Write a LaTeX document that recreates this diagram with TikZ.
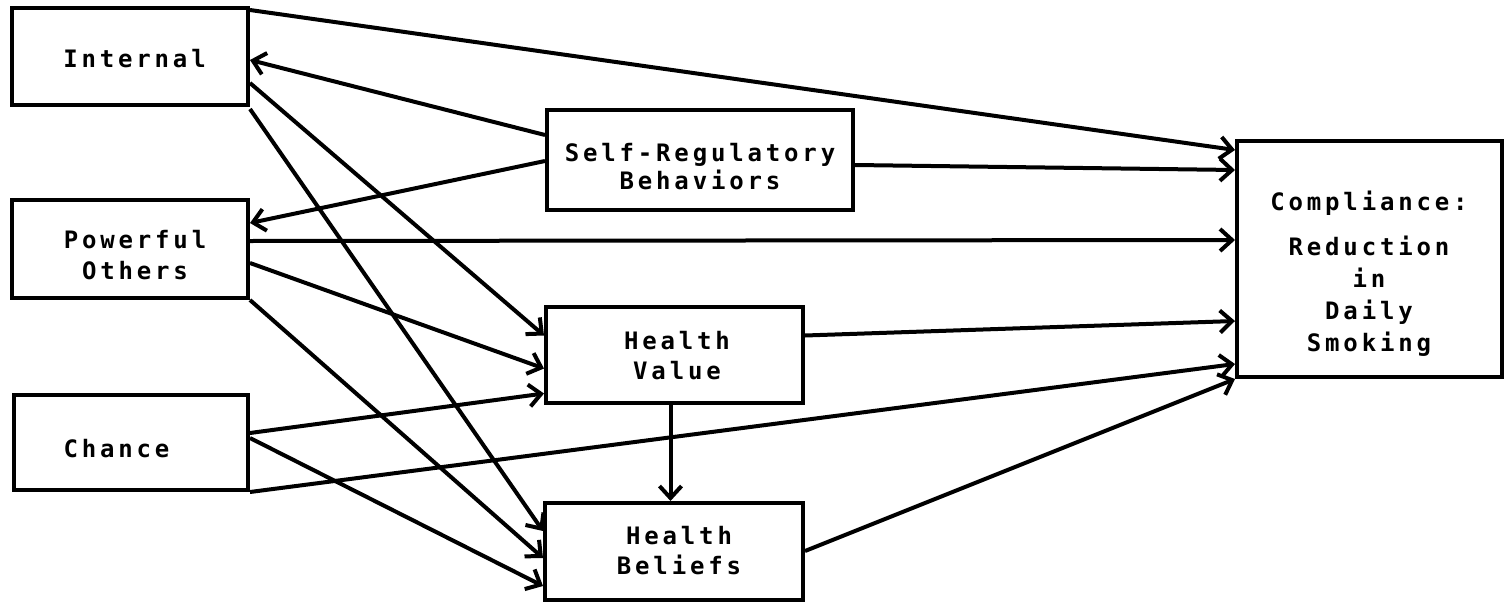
\documentclass[tikz,border=0pt]{standalone}
\usepackage{fontspec}
\setmonofont{DejaVu Sans Mono}[LetterSpace=16]
\usetikzlibrary{arrows.meta,calc}
\tikzset{
  box/.style={draw,line width=4pt,rectangle,inner sep=0pt},
  txt/.style={inner sep=0pt,align=center,anchor=base,
    font=\ttfamily\bfseries\fontsize{24}{#1}\selectfont},
  txt/.default=31,
  conn/.style={line width=4pt,-{Straight Barb[length=12pt,width=22pt,line width=4pt]}}
}
\begin{document}
\begin{tikzpicture}[x=1pt,y=-1pt]
\useasboundingbox (0,0) rectangle (1504,613);
% boxes
\node[box,minimum width=236pt,minimum height=97pt] (int) at (130,56.5) {};
\node[box,minimum width=236pt,minimum height=98pt] (pow) at (130,249) {};
\node[box,minimum width=234pt,minimum height=95pt] (cha) at (131,442.5) {};
\node[box,minimum width=306pt,minimum height=100pt] (srb) at (700,160) {};
\node[box,minimum width=257pt,minimum height=96pt] (hv) at (674.5,354.5) {};
\node[box,minimum width=258pt,minimum height=97pt] (hb) at (674,551.5) {};
\node[box,minimum width=265pt,minimum height=236pt] (comp) at (1369.5,259) {};
% texts (base anchor = baseline of the last line)
\node[txt] (inttxt) at (134.5,67) {Internal};
\node[txt=31] (powtxt) at (135,279) {Powerful\\Others};
\node[txt] (chatxt) at (116.5,457) {Chance};
\node[txt=28] (srbtxt) at (700,189) {Self-Regulatory\\Behaviors};
\node[txt=30] (hvtxt) at (677,379) {Health\\Value};
\node[txt=30] (hbtxt) at (679,574) {Health\\Beliefs};
\node[txt=32] (comptxt) at (1369,351)
  {Compliance:\\[13pt]Reduction\\in\\Daily\\Smoking};
% Internal
\draw[conn] ($(int.north east)+(0,4)$) -- ($(comp.north west)+(0,11)$);
\draw[conn] ($(int.north east)+(0,77)$) -- ($(hv.north west)+(0,31)$);
\draw[conn] ($(int.south east)+(0,2)$) -- ($(hb.north west)+(0,30)$);
% Self-regulatory
\draw[conn] ($(srb.north west)+(0,27)$) -- ($(int.north east)+(0,54)$);
\draw[conn] ($(srb.north west)+(0,53)$) -- ($(pow.north east)+(0,25)$);
\draw[conn] ($(srb.north east)+(0,57)$) -- ($(comp.north west)+(0,31)$);
% Powerful others
\draw[conn] ($(pow.north east)+(0,43)$) -- ($(comp.north west)+(0,101)$);
\draw[conn] ($(pow.north east)+(0,65)$) -- ($(hv.north west)+(0,64)$);
\draw[conn] (pow.south east) -- ($(hb.north west)+(0,57)$);
% Chance
\draw[conn] ($(cha.north east)+(0,40)$) -- ($(hv.north west)+(0,89)$);
\draw[conn] ($(cha.north east)+(0,45)$) -- ($(hb.north west)+(0,85)$);
\draw[conn] (cha.south east) -- ($(comp.south west)+(0,-15)$);
% Health value / beliefs
\draw[conn] ($(hv.north east)+(0,31)$) -- ($(comp.north west)+(0,182)$);
\coordinate (hvb) at ($(hv.south)+(-4,0)$);
\draw[conn] (hvb) -- (hvb |- hb.north);
\draw[conn] ($(hb.north east)+(0,50)$) -- (comp.south west);
\end{tikzpicture}
\end{document}
